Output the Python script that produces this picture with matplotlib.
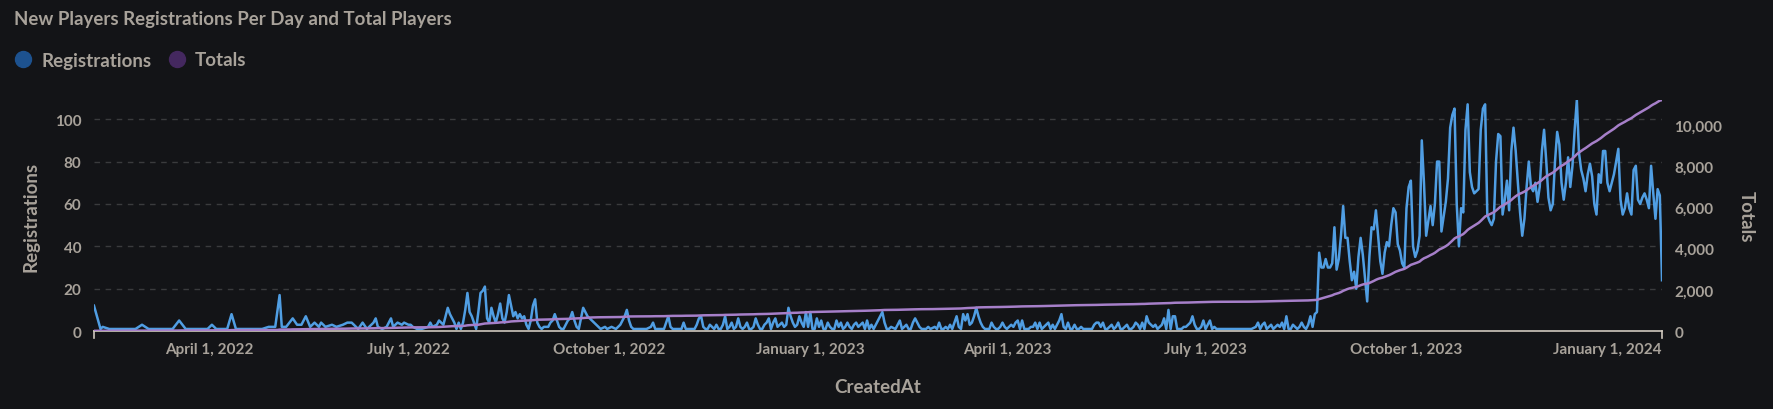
import numpy as np
import pandas as pd
import matplotlib.pyplot as plt
import matplotlib.dates as mdates
from matplotlib.lines import Line2D
from matplotlib.ticker import FuncFormatter

plt.rcParams['font.family'] = ['Lato', 'DejaVu Sans']

# daily new registrations, first day = 2022-02-07
# (0 = no registrations that day, those days have no point on the line)
start_date = '2022-02-07'
reg_part1 = [12, 0, 0, 1, 2, 0, 0, 1, 0, 0,
             0, 1, 0, 0, 0, 1, 0, 0, 0, 1,
             0, 0, 3, 0, 0, 1, 0, 0, 0, 1,
             0, 0, 0, 1, 0, 0, 1, 0, 0, 5,
             0, 0, 1, 0, 0, 0, 1, 0, 0, 0,
             1, 0, 1, 0, 3, 0, 1, 0, 0, 0]
reg_part2 = [0, 1, 0, 8, 0, 1, 0, 0, 0, 1,
             0, 0, 0, 1, 0, 0, 0, 1, 0, 0,
             2, 0, 0, 2, 0, 17, 2, 0, 2, 0,
             0, 6, 0, 3, 0, 3, 0, 7, 0, 2,
             0, 4, 0, 2, 4, 0, 2, 0, 0, 3,
             0, 2, 0, 0, 3, 0, 4, 0, 4, 0]
reg_part3 = [0, 1, 0, 4, 0, 1, 0, 0, 4, 6,
             2, 0, 1, 0, 2, 4, 6, 2, 3, 4,
             0, 3, 4, 0, 3, 3, 2, 0, 1, 0,
             1, 0, 0, 2, 4, 2, 0, 3, 5, 4,
             3, 7, 11, 8, 6, 4, 1, 4, 1, 4,
             10, 18, 9, 7, 4, 1, 9, 18, 19, 21]
reg_part4 = [6, 4, 11, 7, 4, 8, 13, 6, 4, 9,
             17, 12, 7, 9, 6, 8, 6, 7, 3, 1,
             5, 12, 15, 4, 2, 1, 2, 2, 2, 4,
             5, 8, 5, 2, 1, 1, 3, 5, 6, 9,
             5, 2, 1, 6, 11, 9, 7, 6, 5, 4,
             3, 2, 1, 0, 2, 1, 0, 2, 0, 1]
reg_part5 = [2, 3, 5, 7, 10, 5, 2, 1, 0, 1,
             0, 1, 0, 1, 0, 2, 4, 1, 0, 1,
             0, 1, 4, 7, 2, 1, 0, 1, 0, 1,
             4, 1, 0, 1, 0, 1, 3, 6, 7, 2,
             1, 1, 3, 0, 1, 3, 1, 1, 3, 7,
             1, 2, 4, 1, 2, 6, 2, 1, 2, 4]
reg_part6 = [1, 1, 2, 6, 3, 1, 1, 3, 4, 6,
             1, 4, 6, 2, 3, 4, 2, 3, 11, 7,
             4, 2, 3, 7, 4, 2, 9, 2, 9, 1,
             1, 6, 2, 5, 1, 1, 4, 2, 1, 1,
             5, 2, 4, 1, 2, 4, 2, 1, 3, 4,
             2, 3, 4, 1, 5, 1, 3, 1, 3, 5]
reg_part7 = [7, 9, 4, 1, 1, 2, 0, 1, 3, 5,
             1, 2, 3, 1, 1, 4, 6, 4, 2, 1,
             0, 1, 2, 1, 0, 2, 1, 4, 1, 1,
             2, 1, 3, 1, 4, 7, 2, 1, 8, 5,
             8, 3, 4, 7, 11, 7, 4, 2, 1, 1,
             1, 4, 2, 1, 1, 2, 4, 2, 1, 2]
reg_part8 = [3, 2, 4, 5, 1, 5, 1, 0, 1, 2,
             2, 4, 1, 4, 1, 2, 3, 4, 1, 3,
             1, 3, 5, 8, 2, 1, 4, 1, 1, 3,
             1, 1, 2, 1, 1, 0, 1, 1, 3, 4,
             4, 2, 4, 1, 1, 2, 3, 1, 2, 4,
             1, 1, 2, 3, 1, 1, 2, 4, 3, 1]
reg_part9 = [4, 1, 7, 4, 3, 2, 3, 1, 2, 3,
             6, 1, 10, 1, 7, 7, 1, 1, 1, 2,
             2, 3, 4, 7, 3, 1, 1, 2, 5, 1,
             3, 5, 1, 2, 1, 0, 1, 0, 1, 0,
             0, 1, 0, 1, 0, 0, 1, 0, 1, 0,
             1, 0, 2, 4, 1, 3, 4, 1, 2, 3]
reg_part10 = [1, 2, 3, 2, 4, 1, 7, 1, 1, 3,
              2, 1, 2, 4, 2, 1, 3, 7, 2, 8,
              9, 37, 30, 30, 34, 30, 30, 32, 49, 29,
              34, 45, 59, 44, 44, 33, 24, 28, 20, 35,
              44, 36, 25, 14, 35, 49, 48, 57, 45, 33,
              27, 37, 42, 40, 50, 58, 56, 41, 38, 32]
reg_part11 = [30, 58, 68, 71, 40, 35, 38, 45, 90, 70,
              45, 52, 59, 50, 60, 80, 80, 47, 54, 61,
              72, 96, 102, 105, 60, 40, 58, 56, 95, 107,
              75, 68, 65, 66, 67, 95, 105, 107, 55, 52,
              50, 53, 80, 93, 92, 55, 62, 71, 57, 85,
              96, 85, 70, 56, 45, 53, 68, 80, 68, 66]
reg_part12 = [70, 61, 68, 85, 95, 80, 63, 57, 60, 80,
              94, 88, 70, 62, 70, 82, 68, 78, 95, 109,
              84, 76, 72, 66, 74, 79, 73, 60, 55, 74,
              70, 85, 85, 70, 66, 70, 74, 80, 86, 62,
              55, 58, 65, 58, 55, 76, 78, 62, 60, 63,
              65, 62, 58, 78, 65, 53, 67, 64, 24]

registrations = np.array(reg_part1 + reg_part2 + reg_part3 + reg_part4 + reg_part5
                         + reg_part6 + reg_part7 + reg_part8 + reg_part9 + reg_part10
                         + reg_part11 + reg_part12)
dates = pd.date_range(start_date, periods=len(registrations), freq='D')
totals = np.cumsum(registrations)
has_reg = registrations > 0

x_ticks = ['2022-04-01', '2022-07-01', '2022-10-01', '2023-01-01',
           '2023-04-01', '2023-07-01', '2023-10-01', '2024-01-01']
left_ticks = [0, 20, 40, 60, 80, 100]
right_ticks = [0, 2000, 4000, 6000, 8000, 10000]

bg = '#131417'
txt = '#a8a29a'

fig = plt.figure(figsize=(17.73, 4.10), dpi=100, facecolor=bg)
ax = fig.add_axes([0.053, 0.19, 0.8844, 0.5634])
ax.set_facecolor(bg)
ax2 = ax.twinx()

ax.plot(dates[has_reg], registrations[has_reg], color='#509EE3', lw=1.8)
ax2.plot(dates, totals, color='#A67FC9', lw=1.8)

ax.set_xlim(dates[0], dates[-1])
ax.set_ylim(0, registrations.max())
ax2.set_ylim(0, totals[-1])

ax.set_yticks(left_ticks)
ax2.set_yticks(right_ticks)
ax2.yaxis.set_major_formatter(FuncFormatter(lambda v, p: f'{int(v):,}'))
ax.set_xticks(pd.to_datetime(x_ticks))
ax.xaxis.set_major_formatter(FuncFormatter(
    lambda v, p: (lambda d: f'{d:%B} {d.day}, {d.year}')(mdates.num2date(v))))

ax.grid(axis='y', linestyle=(0, (4, 4)), color='#3a3b3d', lw=1)
for a in (ax, ax2):
    for s in a.spines.values():
        s.set_visible(False)
ax.spines['bottom'].set_visible(True)
ax.spines['bottom'].set_color('#cfc8bd')
ax.spines['bottom'].set_linewidth(1.2)
for xe in (0, 1):
    ax.plot([xe, xe], [0, -0.03], transform=ax.transAxes, color='#cfc8bd',
            lw=1.2, clip_on=False)

ax.tick_params(axis='y', length=0, pad=9, labelcolor=txt, labelsize=11)
ax2.tick_params(axis='y', length=0, pad=9, labelcolor=txt, labelsize=11)
ax.tick_params(axis='x', length=0, pad=8, labelcolor=txt, labelsize=11)
for lbl in ax.get_xticklabels() + ax.get_yticklabels() + ax2.get_yticklabels():
    lbl.set_fontweight('bold')

ax.set_xlabel('CreatedAt', color=txt, fontsize=13.5, fontweight='bold', labelpad=16)
ax.set_ylabel('Registrations', color=txt, fontsize=13.5, fontweight='bold', labelpad=11)
ax2.set_ylabel('Totals', color=txt, fontsize=13.5, fontweight='bold', labelpad=11,
               rotation=270, va='bottom')

fig.text(14 / 1773, 1 - 19 / 410, 'New Players Registrations Per Day and Total Players',
         color=txt, fontsize=13.45, fontweight='bold', va='center', ha='left')

handles = [Line2D([], [], marker='o', linestyle='', markersize=11.5, color='#1d528f'),
           Line2D([], [], marker='o', linestyle='', markersize=11.5, color='#44285f')]
fig.legend(handles, ['Registrations', 'Totals'], loc='center left',
           bbox_to_anchor=(14 / 1773, 1 - 61 / 410), ncol=2, frameon=False,
           borderpad=0, borderaxespad=0, handlelength=1.0,
           handletextpad=0.45, columnspacing=0.85, labelcolor=txt,
           prop={'size': 13.5, 'weight': 'bold'})

fig.savefig('out.png', dpi=100, facecolor=bg)
